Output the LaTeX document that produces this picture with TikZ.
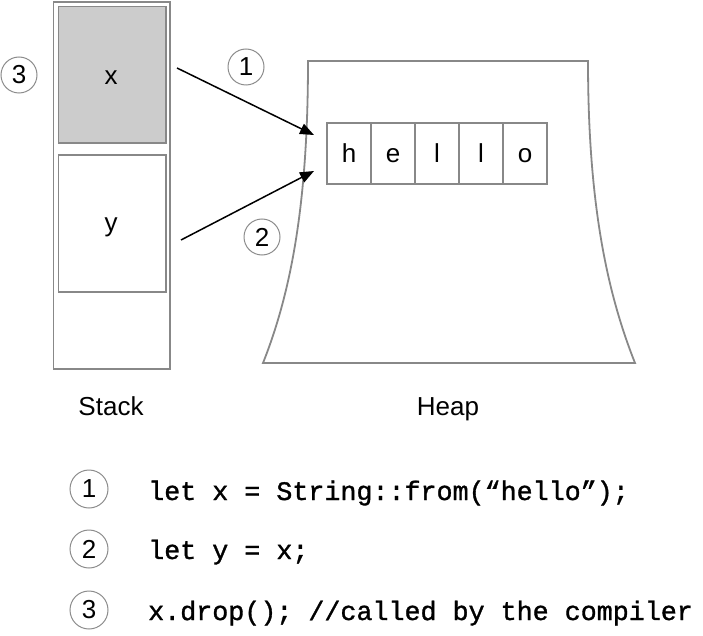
\documentclass[tikz,border=0pt]{standalone}
\usepackage{fontspec}
\setmainfont{Liberation Sans}
\newfontfamily\codefont[FakeBold=1.2]{Liberation Mono}
\usetikzlibrary{arrows.meta}
\definecolor{edgegray}{HTML}{888888}
\definecolor{cellfill}{HTML}{CCCCCC}
\definecolor{ringgray}{HTML}{8C8C8C}
\begin{document}
\begin{tikzpicture}[x=1pt,y=-1pt,
  box/.style={draw=edgegray,line width=1.8pt},
  ring/.style={circle,draw=ringgray,line width=1pt,minimum size=36pt,inner sep=0pt,font=\fontsize{26}{26}\selectfont},
  bigring/.style={ring,minimum size=38pt},
  lbl/.style={font=\fontsize{26}{26}\selectfont,inner sep=0pt,anchor=base},
  code/.style={font=\codefont\fontsize{26.7}{30}\selectfont,inner sep=0pt,anchor=base west},
  ptr/.style={line width=1.5pt,-{Triangle[length=14pt,width=11pt]}}]
\useasboundingbox (0,0) rectangle (703,636);
% stack
\draw[box] (53.5,2) rectangle (170,369);
\draw[box,fill=cellfill] (58.5,6.5) rectangle (166,143);
\draw[box] (58.5,155) rectangle (166,292);
\node[lbl] (xl) at (111,85) {x};
\node[lbl] (yl) at (111,232) {y};
\coordinate (xs) at (177,68);
\coordinate (ys) at (181,240);
% heap
\draw[box,line join=miter] (308,61) -- (588,61) .. controls (588,200) and (606,290) .. (635,363)
  -- (263,363) .. controls (292,290) and (308,200) .. cycle;
\foreach \i/\c in {0/h,1/e,2/l,3/l,4/o}{
  \draw[box,line width=1.5pt] (327+44*\i,123) rectangle (371+44*\i,184);
  \node[lbl] (c\i) at (349+44*\i,163) {\c};
}
\coordinate (t1) at (314,135);
\coordinate (t2) at (314,171);
\draw[ptr] (xs) -- (t1);
\draw[ptr] (ys) -- (t2);
\node[ring] (r1) at (246,67) {1};
\node[ring] (r2) at (262,237) {2};
\node[ring] (r3) at (19,75) {3};
\node[lbl] (stack) at (111,415) {Stack};
\node[lbl] (heap) at (448,415) {Heap};
% legend
\node[bigring] (l1) at (89,489) {1};
\node[bigring] (l2) at (89,549) {2};
\node[bigring] (l3) at (89,610) {3};
\node[code] (s1) at (148,500) {let x = String::from(“hello”);};
\node[code] (s2) at (148,559) {let y = x;};
\node[code] (s3) at (148,620) {x.drop(); //called by the compiler};
\end{tikzpicture}
\end{document}
